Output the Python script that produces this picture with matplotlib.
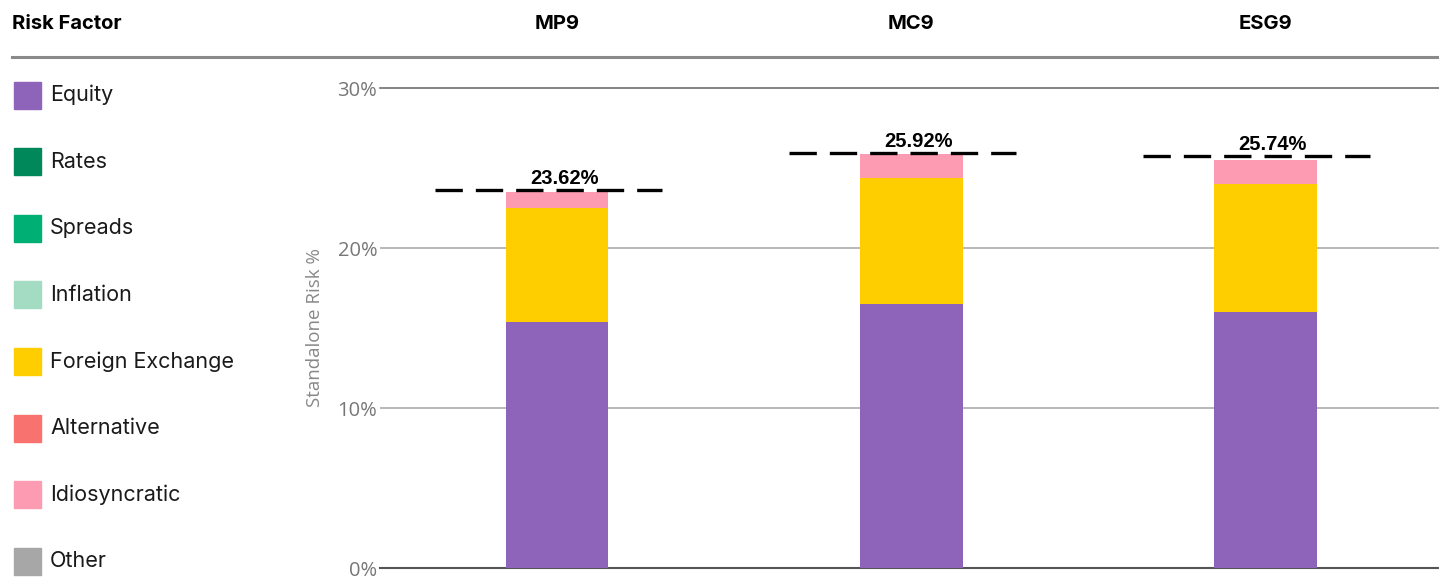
import matplotlib.pyplot as plt
from matplotlib.patches import Rectangle
from matplotlib import transforms

# data
portfolios = ["MP9", "MC9", "ESG9"]
totals = [23.62, 25.92, 25.74]
factors = ["Equity", "Rates", "Spreads", "Inflation", "Foreign Exchange",
           "Alternative", "Idiosyncratic", "Other"]
colors = ["#8E63BA", "#00875A", "#00AF74", "#A3DBC3", "#FFCE00",
          "#F87370", "#FD9BB3", "#A7A7A7"]
equity = [15.4, 16.5, 16.0]
rates = [0.0, 0.0, 0.0]
spreads = [0.0, 0.0, 0.0]
inflation = [0.0, 0.0, 0.0]
fx = [7.1, 7.9, 8.0]
alternative = [0.0, 0.0, 0.0]
idio = [1.0, 1.5, 1.5]
other = [0.0, 0.0, 0.0]
series = [equity, rates, spreads, inflation, fx, alternative, idio, other]

W, H = 1439, 577
fig = plt.figure(figsize=(W / 100, H / 100), dpi=100)

ax = fig.add_axes([380 / W, 9 / H, 1059 / W, 480 / H])
x = list(range(len(portfolios)))
bottom = [0.0] * len(portfolios)
for vals, c in zip(series, colors):
    ax.bar(x, vals, width=0.29, bottom=bottom, color=c, zorder=3)
    bottom = [b + v for b, v in zip(bottom, vals)]

# total markers
for i, t in enumerate(totals):
    ax.hlines(t, i - 0.345, i + 0.295, colors="black", lw=2.4,
              linestyles=(0, (8.2, 3.9)), zorder=4)
    ax.text(i + 0.02, t + 0.12, f"{t:.2f}%", ha="center", va="bottom",
            fontsize=14.5, fontweight="bold", family="Liberation Sans", zorder=5)

ax.set_xlim(-0.5, 2.49)
ax.set_ylim(0, 30)
ax.set_yticks([0, 10, 20, 30])
ax.set_yticklabels(["0%", "10%", "20%", "30%"])
ax.set_xticks([])
for s in ax.spines.values():
    s.set_visible(False)
ax.tick_params(axis="y", length=0, pad=2, labelsize=14.5, labelcolor="#777777")
for tl in ax.get_yticklabels():
    tl.set_family("Open Sans")
for yv in [10, 20]:
    ax.axhline(yv, color="#ABABAB", lw=1.2, zorder=1)
ax.axhline(30, color="#6E6E6E", lw=1.2, zorder=1, clip_on=False)
ax.axhline(0, color="#555555", lw=1.5, zorder=1, clip_on=False)
ax.set_ylabel("Standalone Risk %", fontsize=13.5, color="#888888",
              family="Open Sans", labelpad=10)

# header row
trans = transforms.blended_transform_factory(ax.transData, fig.transFigure)
for i, p in enumerate(portfolios):
    fig.text(i, 1 - 24 / H, p, transform=trans, ha="center", va="center",
             fontsize=14.5, fontweight="bold", family="Inter")
fig.text(12 / W, 1 - 24 / H, "Risk Factor", ha="left", va="center",
         fontsize=14.5, fontweight="bold", family="Inter")

ov = fig.add_axes([0, 0, 1, 1], zorder=-1)
ov.set_xlim(0, W)
ov.set_ylim(H, 0)
ov.axis("off")
ov.plot([12, W], [57, 57], color="#8A8A8A", lw=2.2)

# legend
for k, (name, c) in enumerate(zip(factors, colors)):
    yc = 95 + k * 66.6
    ov.add_patch(Rectangle((14, yc - 13.5), 27, 27, color=c))
    ov.text(50, yc, name, ha="left", va="center", fontsize=15.5,
            family="Inter", color="#1a1a1a")

fig.savefig("out.png", dpi=100)
